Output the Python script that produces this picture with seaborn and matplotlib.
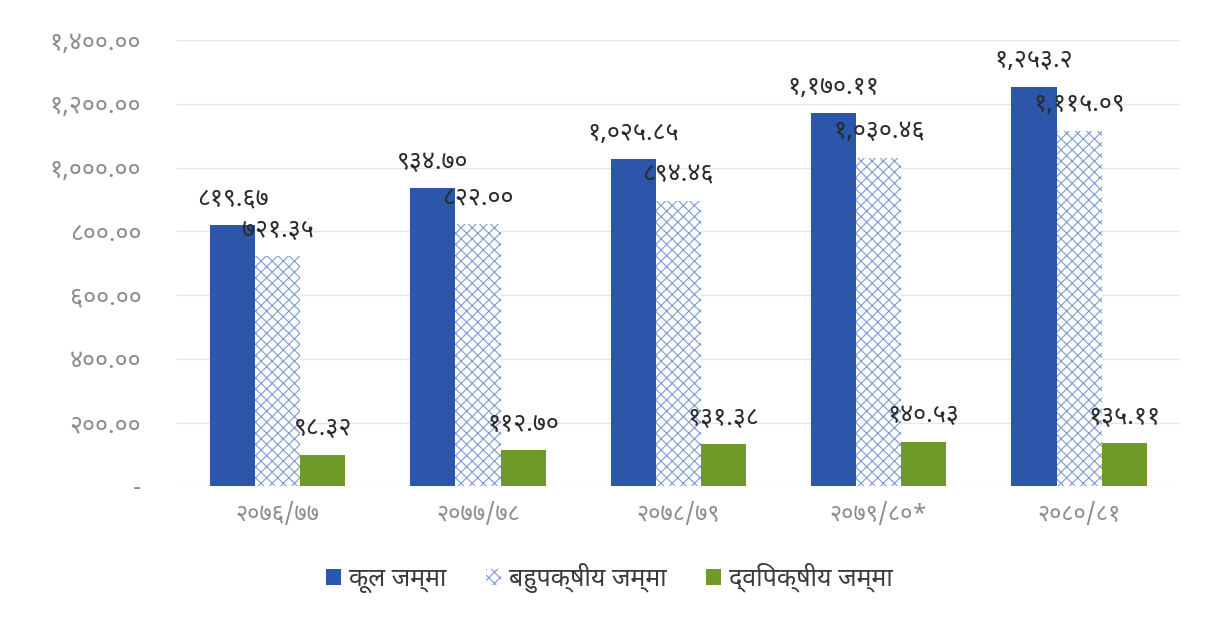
import matplotlib
matplotlib.use("Agg")
import matplotlib.pyplot as plt
from matplotlib import font_manager
from matplotlib.ft2font import FT2Font
from matplotlib.patches import Patch
import seaborn as sns
import pandas as pd

# ---- data ----
categories = ["२०७६/७७", "२०७७/७८", "२०७८/७९", "२०७९/८०*", "२०८०/८१"]
series_names = ["कूल जम्मा", "बहुपक्षीय जम्मा", "द्विपक्षीय जम्मा"]
total = [819.67, 934.70, 1025.85, 1170.11, 1253.2]
multilateral = [721.35, 822.00, 894.46, 1030.46, 1115.09]
bilateral = [98.32, 112.70, 131.38, 140.53, 135.11]
total_labels = ["८१९.६७", "९३४.७०", "१,०२५.८५", "१,१७०.११", "१,२५३.२"]
multi_labels = ["७२१.३५", "८२२.००", "८९४.४६", "१,०३०.४६", "१,११५.०९"]
bi_labels = ["९८.३२", "११२.७०", "१३१.३८", "१४०.५३", "१३५.११"]
y_ticks = [0, 200, 400, 600, 800, 1000, 1200, 1400]

# ---- find a Devanagari-capable font, preferring common ones ----
cands = []
for f in font_manager.fontManager.ttflist:
    try:
        ft = FT2Font(f.fname)
        cmap = ft.get_charmap()
        if ord("क") in cmap and ord("१") in cmap:
            cands.append(f.name)
    except Exception:
        pass
pref = ["Noto Sans Devanagari", "Noto Sans Devanagari UI", "Mukta", "Hind",
        "Lohit Devanagari", "Mangal", "Nirmala UI", "FreeSans", "Kalimati"]
dev_font = None
for p in pref:
    if p in cands:
        dev_font = p
        break
if dev_font is None and cands:
    dev_font = sorted(cands)[0]
families = ([dev_font] if dev_font else []) + ["DejaVu Sans"]

sns.set_theme(style="white")
plt.rcParams["font.family"] = families
plt.rcParams["hatch.color"] = "#7d9ad6"
plt.rcParams["hatch.linewidth"] = 0.8

DEV = str.maketrans("0123456789", "०१२३४५६७८९")


def to_dev(s):
    return s.translate(DEV)


df = pd.DataFrame({
    "cat": categories * 3,
    "series": [series_names[0]] * 5 + [series_names[1]] * 5 + [series_names[2]] * 5,
    "value": total + multilateral + bilateral,
})

c_total = "#2c56a9"
c_multi_edge = "#7d9ad6"
c_bi = "#6f9a28"

fig = plt.figure(figsize=(12.07, 6.18), dpi=100)
ax = fig.add_axes([0.147, 0.213, 0.830, 0.722])

sns.barplot(data=df, x="cat", y="value", hue="series", hue_order=series_names,
            palette=[c_total, "white", c_bi], width=0.675, gap=0, ax=ax,
            saturation=1, legend=False)

conts = ax.containers
for bar in conts[1]:
    bar.set_hatch("xxx")
    bar.set_edgecolor(c_multi_edge)
    bar.set_linewidth(0)
for cont in (conts[0], conts[2]):
    for bar in cont:
        bar.set_linewidth(0)

for cont, labs in zip(conts, [total_labels, multi_labels, bi_labels]):
    ax.bar_label(cont, labels=labs, padding=10, fontsize=18, color="#2a2a2a")

ax.set_ylim(0, 1400)
ax.set_xlim(-0.5, 4.5)
ax.set_yticks(y_ticks)
ax.set_yticklabels(["-"] + [to_dev(f"{v:,.2f}") for v in y_ticks[1:]],
                   fontsize=18, color="#8c8c8c")
ax.set_xticks(range(len(categories)))
ax.set_xticklabels(categories, fontsize=17, color="#8c8c8c")
ax.tick_params(axis="x", pad=12, length=0)
ax.tick_params(axis="y", pad=26, length=0)
ax.set_xlabel("")
ax.set_ylabel("")
ax.grid(axis="y", color="#e6e6e6", linewidth=1)
ax.set_axisbelow(True)
for s in ax.spines.values():
    s.set_visible(False)

handles = [Patch(facecolor=c_total, edgecolor="none"),
           Patch(facecolor="white", edgecolor=c_multi_edge, hatch="xxx", linewidth=0),
           Patch(facecolor=c_bi, edgecolor="none")]
fig.legend(handles, series_names, loc="center", bbox_to_anchor=(0.505, 0.065),
           ncol=3, frameon=False, fontsize=18, handlelength=0.6, handleheight=0.6,
           columnspacing=1.6, handletextpad=0.3, labelcolor="#3a3a3a")

fig.savefig("out.png", dpi=100)
